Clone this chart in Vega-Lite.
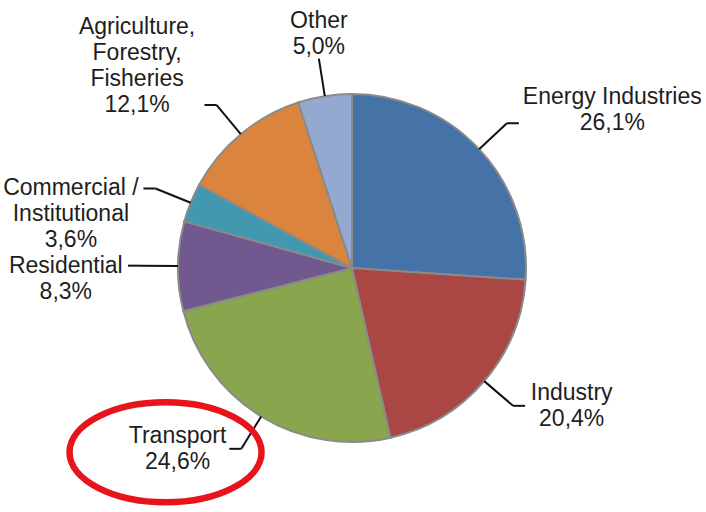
{
  "$schema": "https://vega.github.io/schema/vega-lite/v6.json",
  "width": 706,
  "height": 512,
  "padding": 0,
  "autosize": {"type": "none"},
  "background": "white",
  "config": {"view": {"stroke": null}, "text": {"font": "Liberation Sans"}},
  "data": {
    "values": [
      {"idx": 1, "sector": "Energy Industries", "value": 26.1},
      {"idx": 2, "sector": "Industry", "value": 20.4},
      {"idx": 3, "sector": "Transport", "value": 24.6},
      {"idx": 4, "sector": "Residential", "value": 8.3},
      {"idx": 5, "sector": "Commercial /\nInstitutional", "value": 3.6},
      {"idx": 6, "sector": "Agriculture,\nForestry,\nFisheries", "value": 12.1},
      {"idx": 7, "sector": "Other", "value": 5.0}
    ]
  },
  "transform": [
    {"joinaggregate": [{"op": "sum", "field": "value", "as": "total"}]},
    {"window": [{"op": "sum", "field": "value", "as": "cum"}], "sort": [{"field": "idx"}], "frame": [null, 0]},
    {"calculate": "2*PI*(datum.cum - datum.value/2)/datum.total", "as": "a"},
    {"calculate": "sin(datum.a)", "as": "s"},
    {"calculate": "-cos(datum.a)", "as": "c"},
    {"calculate": "datum.s > 0.25 ? 1 : (datum.s < -0.25 ? -1 : 0)", "as": "side"},
    {"calculate": "174*datum.s", "as": "x0"},
    {"calculate": "174*datum.c", "as": "y0"},
    {"calculate": "212*datum.s", "as": "x1"},
    {"calculate": "212*datum.c", "as": "y1"},
    {"calculate": "datum.x1 + 12*datum.side", "as": "x2"},
    {"calculate": "datum.x2 + 5*datum.side", "as": "lx"},
    {"calculate": "datum.sector + '\\n' + replace(format(datum.value, '.1f'), '.', ',') + '%'", "as": "label"},
    {"calculate": "split(datum.label, '\\n')", "as": "lines"},
    {"calculate": "length(datum.lines)", "as": "nl"},
    {"calculate": "max(length(datum.lines[0]), length(datum.lines[1]), datum.nl > 2 ? length(datum.lines[2]) : 0, datum.nl > 3 ? length(datum.lines[3]) : 0)", "as": "ml"},
    {"calculate": "datum.lx + datum.side*datum.ml*5.2", "as": "tx"},
    {"calculate": "datum.c < -0.5 ? 1 : (datum.c > 0.5 ? 0.5 : 0)", "as": "f"},
    {"calculate": "datum.y1 - datum.f*(datum.nl - 1)*26", "as": "ly"}
  ],
  "layer": [
    {
      "mark": {"type": "arc", "radius": 174, "stroke": "#8a8a8a", "strokeWidth": 2},
      "encoding": {
        "x": {"datum": 0, "type": "quantitative", "scale": {"domain": [-352, 354], "nice": false, "zero": false}, "axis": null},
        "y": {"datum": 0, "type": "quantitative", "scale": {"domain": [-268, 244], "nice": false, "zero": false, "reverse": true}, "axis": null},
        "theta": {"field": "value", "type": "quantitative", "stack": true},
        "order": {"field": "idx", "type": "quantitative"},
        "color": {
          "field": "sector",
          "type": "nominal",
          "legend": null,
          "scale": {
            "domain": ["Energy Industries", "Industry", "Transport", "Residential", "Commercial /\nInstitutional", "Agriculture,\nForestry,\nFisheries", "Other"],
            "range": ["#4572A7", "#AA4643", "#89A54E", "#71588F", "#4198AF", "#DB843D", "#93A9CF"]
          }
        }
      }
    },
    {
      "mark": {"type": "rule", "stroke": "#111111", "strokeWidth": 2},
      "encoding": {
        "x": {"field": "x0", "type": "quantitative", "scale": {"domain": [-352, 354], "nice": false, "zero": false}, "axis": null},
        "y": {"field": "y0", "type": "quantitative", "scale": {"domain": [-268, 244], "nice": false, "zero": false, "reverse": true}, "axis": null},
        "x2": {"field": "x1"},
        "y2": {"field": "y1"}
      }
    },
    {
      "mark": {"type": "rule", "stroke": "#111111", "strokeWidth": 2},
      "encoding": {
        "x": {"field": "x1", "type": "quantitative", "scale": {"domain": [-352, 354], "nice": false, "zero": false}, "axis": null},
        "y": {"field": "y1", "type": "quantitative", "scale": {"domain": [-268, 244], "nice": false, "zero": false, "reverse": true}, "axis": null},
        "x2": {"field": "x2"},
        "y2": {"field": "y1"}
      }
    },
    {
      "mark": {
        "type": "text",
        "lineBreak": "\n",
        "fontSize": 23,
        "lineHeight": 26,
        "font": "Liberation Sans",
        "fill": "#1e1e1e",
        "align": "center",
        "baseline": {"expr": "datum.side == 0 ? 'bottom' : 'middle'"}
      },
      "encoding": {
        "x": {"field": "tx", "type": "quantitative", "scale": {"domain": [-352, 354], "nice": false, "zero": false}, "axis": null},
        "y": {"field": "ly", "type": "quantitative", "scale": {"domain": [-268, 244], "nice": false, "zero": false, "reverse": true}, "axis": null},
        "text": {"field": "label", "type": "nominal"}
      }
    },
    {
      "transform": [{"filter": "datum.sector == 'Transport'"}],
      "mark": {
        "type": "point",
        "shape": "M -1.08 0.035 A 0.96 0.5 0 1 0 0.84 0.035 A 0.96 0.5 0 1 0 -1.08 0.035 Z",
        "size": 40000,
        "filled": false,
        "stroke": "#e8141b",
        "strokeWidth": 6.5,
        "opacity": 1
      },
      "encoding": {
        "x": {"field": "tx", "type": "quantitative", "scale": {"domain": [-352, 354], "nice": false, "zero": false}, "axis": null},
        "y": {"field": "y1", "type": "quantitative", "scale": {"domain": [-268, 244], "nice": false, "zero": false, "reverse": true}, "axis": null}
      }
    }
  ]
}
